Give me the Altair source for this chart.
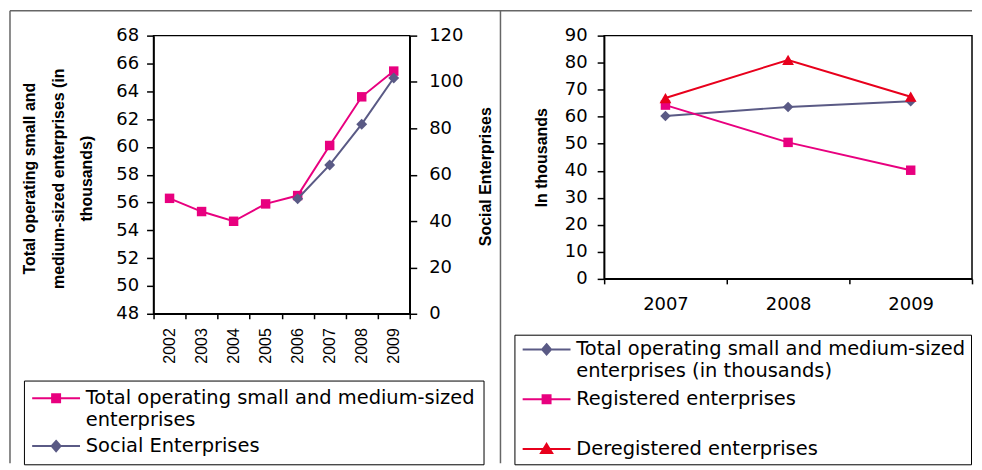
import altair as alt
import pandas as pd

# ---------------- data ----------------
left_years = ["2002", "2003", "2004", "2005", "2006", "2007", "2008", "2009"]
sme_total = [56.3, 55.35, 54.65, 55.9, 56.5, 60.1, 63.6, 65.45]
social_years = ["2006", "2007", "2008", "2009"]
social_ent = [49.6, 64.2, 81.8, 101.7]
left_series = ["Total operating small and medium-sized enterprises", "Social Enterprises"]
left_ticks = [48, 50, 52, 54, 56, 58, 60, 62, 64, 66, 68]
social_ticks = [0, 20, 40, 60, 80, 100, 120]

right_years = ["2007", "2008", "2009"]
right_total = [60.3, 63.6, 65.7]
registered = [64.3, 50.5, 40.2]
deregistered = [66.9, 81.0, 67.4]
right_series = ["Total operating small and medium-sized enterprises (in thousands)",
                "Registered enterprises", "Deregistered enterprises"]
right_ticks = [0, 10, 20, 30, 40, 50, 60, 70, 80, 90]

PINK = "#e8007f"
SLATE = "#5a5a85"
RED = "#e8001c"

# legend symbols: a line with the marker on it (unit = 8px)
SQ = "M-3,0H3M-0.5,-0.5H0.5V0.5H-0.5Z"
DI = "M-3,0H3M0,-0.65L0.56,0L0,0.65L-0.56,0Z"
TR = "M-3,0H3M0,-0.65L0.7,0.5H-0.7Z"


def make_legend(x, y, pad, rowpad, sym_off, lab_off, label_expr, shape_expr, color_expr):
    return alt.Legend(
        title=None, orient="none", legendX=x, legendY=y, padding=pad, rowPadding=rowpad,
        strokeColor="black", labelFont="DejaVu Sans", labelFontSize=19.5, labelColor="black",
        labelLimit=800, labelOffset=lab_off, symbolOffset=sym_off, symbolSize=256, symbolStrokeWidth=2,
        symbolOpacity=1, symbolType={"expr": shape_expr}, symbolStrokeColor={"expr": color_expr},
        symbolFillColor={"expr": color_expr}, labelExpr=label_expr,
    )


leg_left = make_legend(
    -130, 346, 8, 6, 14.5, 20,
    "datum.value == '%s' ? ['Total operating small and medium-sized  ', 'enterprises'] : datum.label" % left_series[0],
    "datum.value == '%s' ? '%s' : '%s'" % (left_series[1], DI, SQ),
    "datum.value == '%s' ? '%s' : '%s'" % (left_series[1], SLATE, PINK),
)
leg_right = make_legend(
    -90, 300, 5, 8, 17.5, 20,
    "datum.value == '%s' ? ['Total operating small and medium-sized  ', 'enterprises (in thousands)'] : "
    "(datum.value == '%s' ? ['Registered enterprises', ' '] : datum.label)" % (right_series[0], right_series[1]),
    "datum.value == '%s' ? '%s' : (datum.value == '%s' ? '%s' : '%s')" % (right_series[0], DI, right_series[1], SQ, TR),
    "datum.value == '%s' ? '%s' : (datum.value == '%s' ? '%s' : '%s')" % (right_series[0], SLATE, right_series[1], PINK, RED),
)

axis_common = dict(domainColor="black", tickColor="black", labelColor="black", titleColor="black",
                   grid=False, domainWidth=1.5, tickWidth=1.5)

# ---------------- left panel ----------------
sme_df = pd.DataFrame({"year": left_years, "value": sme_total, "series": left_series[0]})
soc_df = pd.DataFrame({"year": social_years, "value": social_ent, "series": left_series[1]})

x_left = alt.X("year:O", scale=alt.Scale(type="band", domain=left_years, paddingInner=0, paddingOuter=0),
               axis=alt.Axis(title=None, labelAngle=270, tickBand="extent", labelFont="Liberation Sans",
                             labelFontSize=16, tickSize=5, labelPadding=9, **axis_common))
col_left = alt.Color("series:N", scale=alt.Scale(domain=left_series, range=[PINK, SLATE]), legend=leg_left)
col_left_nl = alt.Color("series:N", scale=alt.Scale(domain=left_series, range=[PINK, SLATE]), legend=None)

y_sme = alt.Y("value:Q", scale=alt.Scale(domain=[48, 68]),
              axis=alt.Axis(values=left_ticks, title=["Total operating small and", "medium-sized enterprises (in", "thousands)"],
                            titleX=-132, titleY=143, titleAngle=270, titleAlign="center", titleBaseline="top",
                            titleFont="Liberation Sans", titleFontSize=16, titleFontWeight="bold", titleLineHeight=28.5,
                            labelFont="DejaVu Sans", labelFontSize=18, labelPadding=8, tickSize=7, **axis_common))
y_soc = alt.Y("value:Q", scale=alt.Scale(domain=[0, 120]),
              axis=alt.Axis(orient="right", values=social_ticks, title="Social Enterprises",
                            titleX=76, titleY=141, titleAngle=270, titleAlign="center", titleBaseline="middle",
                            titleFont="Liberation Sans", titleFontSize=16, titleFontWeight="bold",
                            labelFont="DejaVu Sans", labelFontSize=18, labelPadding=12, tickSize=7, **axis_common))

sme_line = alt.Chart(sme_df).mark_line(strokeWidth=2).encode(x=x_left, y=y_sme, color=col_left)
sme_pts = alt.Chart(sme_df).mark_point(filled=True, size=90, opacity=1, shape="square").encode(
    x=x_left, y=y_sme, color=col_left_nl)
soc_line = alt.Chart(soc_df).mark_line(strokeWidth=2).encode(x=x_left, y=y_soc, color=col_left)
soc_pts = alt.Chart(soc_df).mark_point(filled=True, size=120, opacity=1, shape="diamond").encode(
    x=x_left, y=y_soc, color=col_left_nl)

frame_df = pd.DataFrame({"k": [0]})
FRAME = "#666666"
top_rule = alt.Chart(frame_df).mark_rule(color=FRAME, strokeWidth=1.5).encode(
    x=alt.value(-144), x2=alt.value(821), y=alt.value(-25))
left_rule = alt.Chart(frame_df).mark_rule(color=FRAME, strokeWidth=1.5).encode(
    x=alt.value(-144), y=alt.value(-25), y2=alt.value(429))
div_rule = alt.Chart(frame_df).mark_rule(color=FRAME, strokeWidth=1.5).encode(
    x=alt.value(348), y=alt.value(-25), y2=alt.value(429))

left = alt.layer(
    top_rule, left_rule, div_rule,
    alt.layer(sme_line, sme_pts),
    alt.layer(soc_line, soc_pts),
).resolve_scale(y="independent").properties(width=257, height=279)

# ---------------- right panel ----------------
r_df = pd.DataFrame({
    "year": right_years * 3,
    "value": right_total + registered + deregistered,
    "series": [s for s in right_series for _ in right_years],
})
x_right = alt.X("year:O", scale=alt.Scale(type="band", domain=right_years, paddingInner=0, paddingOuter=0),
                axis=alt.Axis(title=None, labelAngle=0, tickBand="extent", labelFont="DejaVu Sans",
                              labelFontSize=18, tickSize=5, labelPadding=12, **axis_common))
y_right = alt.Y("value:Q", scale=alt.Scale(domain=[0, 90]),
                axis=alt.Axis(values=right_ticks, title="In thousands", titleX=-63, titleY=122, titleAngle=270,
                              titleAlign="center", titleBaseline="middle", titleFont="Liberation Sans",
                              titleFontSize=16, titleFontWeight="bold", labelFont="DejaVu Sans", labelFontSize=18,
                              labelPadding=10, tickSize=7, **axis_common))
col_right = alt.Color("series:N", scale=alt.Scale(domain=right_series, range=[SLATE, PINK, RED]), legend=leg_right)
col_right_nl = alt.Color("series:N", scale=alt.Scale(domain=right_series, range=[SLATE, PINK, RED]), legend=None)

r_line = alt.Chart(r_df).mark_line(strokeWidth=2).encode(x=x_right, y=y_right, color=col_right, detail="series:N")
point_shapes = ["diamond", "square", "triangle-up"]
point_sizes = [110, 90, 140]
r_pts = [
    alt.Chart(r_df).transform_filter(alt.datum.series == s).mark_point(
        filled=True, size=sz, opacity=1, shape=sh).encode(x=x_right, y=y_right, color=col_right_nl)
    for s, sh, sz in zip(right_series, point_shapes, point_sizes)
]
right = alt.layer(r_line, *r_pts).properties(width=369, height=244)

chart = alt.hconcat(left, right, spacing=195, bounds="flush").resolve_scale(
    color="independent"
).properties(padding=0, background="white").configure_view(stroke="black", strokeWidth=1.5)

chart.save("out.html", embed_options={"renderer": "svg", "actions": False})
